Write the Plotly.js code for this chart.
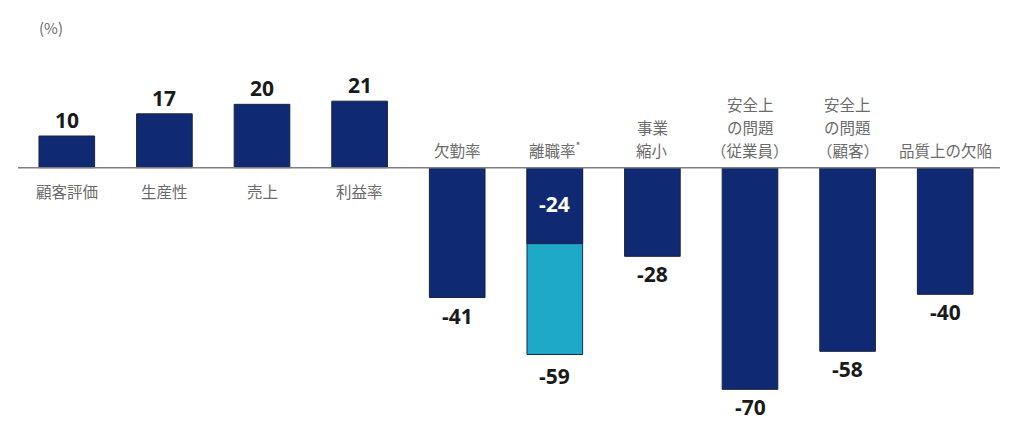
<!DOCTYPE html>
<html>
<head>
<meta charset="utf-8">
<script src="https://cdn.plot.ly/plotly-3.0.1.min.js"></script>
<style>html,body{margin:0;padding:0;background:#fff;}#chart{width:1024px;height:427px;}</style>
</head>
<body>
<div id="chart"></div>
<script>
const categories = ["顧客評価","生産性","売上","利益率","欠勤率","離職率<sup>*</sup>","事業<br>縮小","安全上<br>の問題<br>（従業員）","安全上<br>の問題<br>（顧客）","品質上の欠陥"];
const values = [10, 17, 20, 21, -41, -24, -28, -70, -58, -40];
const extraValues = [null, null, null, null, null, -59, null, null, null, null];
const valueLabels = ["10","17","20","21","-41","-24","-28","-70","-58","-40"];
const extraLabels = [null, null, null, null, null, "-59", null, null, null, null];

const idx = categories.map((_, i) => i);
const DARK = "#0f2a72";
const LIGHT = "#1fa9c9";
const FONT = "'Noto Sans CJK JP', 'Noto Sans', sans-serif";
const NUMFONT = "'Open Sans', 'Noto Sans', sans-serif";

const traces = [
  {type: "bar", x: idx, y: extraValues, marker: {color: LIGHT, line: {color: "#1b2a4a", width: 1}}, hoverinfo: "skip"},
  {type: "bar", x: idx, y: values, marker: {color: DARK, line: {color: "#1b2340", width: 1}}, hoverinfo: "skip"}
];

const annotations = [];
const LINE_STEP = 23;
categories.forEach((c, i) => {
  const pos = values[i] >= 0;
  const lines = c.split("<br>");
  lines.forEach((ln, k) => {
    const fromBottom = lines.length - 1 - k;
    annotations.push({
      x: i, y: 0, xref: "x", yref: "y", text: ln, showarrow: false, borderpad: 0,
      yanchor: pos ? "top" : "bottom",
      yshift: pos ? -11 - k * LINE_STEP : 6 + fromBottom * LINE_STEP,
      font: {family: FONT, size: 15.5, color: "#6b6b6b"}, align: "center"
    });
  });
  const hasExtra = extraValues[i] !== null;
  if (hasExtra) {
    annotations.push({
      x: i, y: values[i], xref: "x", yref: "y", text: "<b>" + valueLabels[i] + "</b>", showarrow: false,
      yanchor: "bottom", yshift: 24,
      font: {family: NUMFONT, size: 21, color: "#ffffff"}
    });
    annotations.push({
      x: i, y: extraValues[i], xref: "x", yref: "y", text: "<b>" + extraLabels[i] + "</b>", showarrow: false,
      yanchor: "top", yshift: -5,
      font: {family: NUMFONT, size: 21, color: "#1a1a1a"}
    });
  } else {
    annotations.push({
      x: i, y: values[i], xref: "x", yref: "y", text: "<b>" + valueLabels[i] + "</b>", showarrow: false,
      yanchor: pos ? "bottom" : "top", yshift: pos ? 0 : -2,
      font: {family: NUMFONT, size: 21, color: "#1a1a1a"}
    });
  }
});
annotations.push({
  xref: "paper", yref: "paper", x: 0.019, y: 1, xanchor: "left", yanchor: "bottom", yshift: 1,
  text: "(%)", showarrow: false, font: {family: FONT, size: 15, color: "#6b6b6b"}
});

const layout = {
  width: 1024, height: 427,
  margin: {l: 18, r: 30, t: 41, b: 6},
  paper_bgcolor: "#ffffff", plot_bgcolor: "#ffffff",
  barmode: "overlay", bargap: 0.43,
  showlegend: false,
  xaxis: {range: [-0.5, 9.5], visible: false, fixedrange: true},
  yaxis: {range: [-80, 40], showgrid: false, showticklabels: false, zeroline: false, fixedrange: true},
  shapes: [{type: "line", xref: "paper", yref: "y", x0: 0, x1: 1.006, y0: 0, y1: 0, line: {color: "#7f7f7f", width: 1.5}, layer: "above"}],
  annotations: annotations,
  font: {family: FONT}
};

Plotly.newPlot("chart", traces, layout, {displayModeBar: false, staticPlot: true});
</script>
</body>
</html>
